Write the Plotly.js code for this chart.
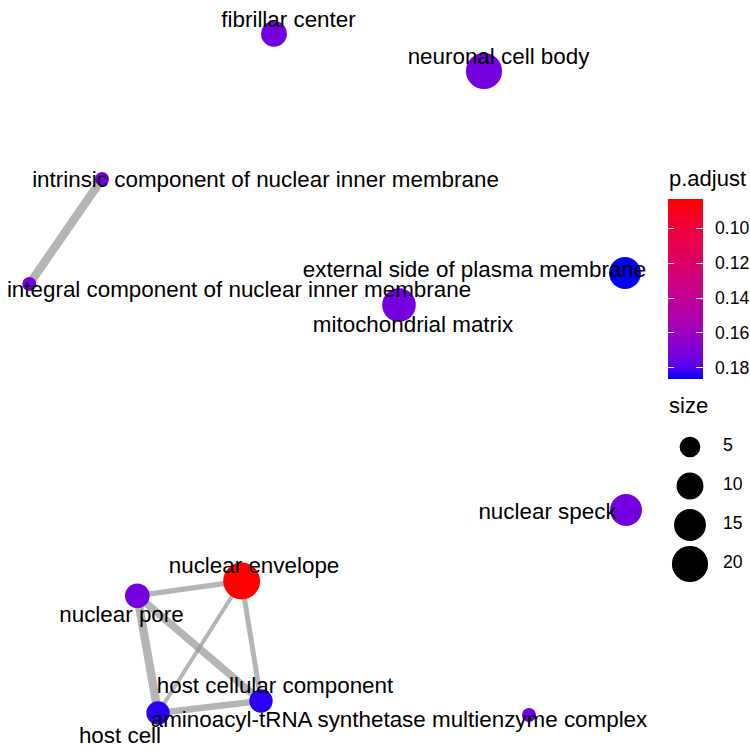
<!DOCTYPE html>
<html>
<head>
<meta charset="utf-8">
<script src="https://cdn.plot.ly/plotly-3.0.1.min.js"></script>
<style>html,body{margin:0;padding:0;background:#fff;}#chart{width:750px;height:750px;}</style>
</head>
<body>
<div id="chart"></div>
<script>
// ---- data ----
const nodeNames = ["fibrillar center","neuronal cell body","intrinsic component of nuclear inner membrane","integral component of nuclear inner membrane","external side of plasma membrane","mitochondrial matrix","nuclear speck","nuclear envelope","nuclear pore","host cellular component","host cell","aminoacyl-tRNA synthetase multienzyme complex"];
const nodeX = [3.653, 6.453, 1.36, 0.391, 8.333, 5.32, 8.347, 3.222, 1.831, 3.48, 2.107, 7.053];
const nodeY = [9.547, 9.053, 7.613, 6.213, 6.36, 5.933, 3.2, 2.253, 2.057, 0.653, 0.493, 0.467];
const nodeSize = [9, 20, 1, 1, 15, 17, 15, 21, 8, 7, 7, 1];
const nodePadj = [0.173, 0.173, 0.173, 0.173, 0.1863, 0.173, 0.173, 0.0834, 0.173, 0.183, 0.183, 0.173];
const labelX = [3.847, 6.647, 3.54, 3.187, 6.327, 5.507, 7.3, 3.387, 1.62, 3.667, 1.6, 5.32];
const labelY = [9.716, 9.222, 7.582, 6.116, 6.382, 5.649, 3.156, 2.436, 1.782, 0.836, 0.169, 0.382];
const edgeFrom = [2, 8, 8, 8, 7, 7, 10];
const edgeTo   = [3, 7, 10, 9, 10, 9, 9];
const edgeSim  = [0.93, 0.47, 0.93, 0.79, 0.29, 0.43, 0.64];
const padjTicks = [0.10, 0.12, 0.14, 0.16, 0.18];
const sizeBreaks = [5, 10, 15, 20];

// ---- helpers ----
const sMin = Math.min(...nodeSize);
function diam(s){ return 2*Math.sqrt(49 + 14.65*(s - sMin)); }
const FONT = "Liberation Sans, Arial, sans-serif";
// red (low p) -> blue (high p), Lab-like interpolation; colour values are -p so that red sits at the top of the bar
const colorscale = [[0,"#0000FF"],[0.0625,"#5400F0"],[0.125,"#7300E0"],[0.25,"#9A00C3"],[0.375,"#B500A5"],[0.5,"#CA0089"],[0.625,"#DA006C"],[0.75,"#E8004F"],[0.875,"#F40031"],[1,"#FF0000"]];
const clearScale = [[0,"rgba(0,0,0,0)"],[1,"rgba(0,0,0,0)"]];
const negP = nodePadj.map(p => -p);
const cMin = Math.min(...negP), cMax = Math.max(...negP);
const tickV = padjTicks.map(v => -v), tickT = padjTicks.map(v => v.toFixed(2));

// colour bar geometry
const cbX0 = 668/750, cbThick = 35, cbLen = 180, cbYmid = 1 - 289/750;
function cbar(extra){
  return Object.assign({
    x: cbX0, xanchor: "left", xpad: 0, ypad: 0, y: cbYmid, yanchor: "middle",
    lenmode: "pixels", len: cbLen, thickness: cbThick, outlinewidth: 0,
    tickvals: tickV, ticktext: tickT, showticklabels: false,
    ticks: "inside", ticklen: 7, tickcolor: "#FFFFFF", tickwidth: 1,
    tickfont: {family: FONT, size: 17.6, color: "#000"}
  }, extra);
}

const traces = [];
for (let i = 0; i < edgeFrom.length; i++) {
  traces.push({
    type: "scatter", mode: "lines", hoverinfo: "skip", showlegend: false,
    x: [nodeX[edgeFrom[i]], nodeX[edgeTo[i]]],
    y: [nodeY[edgeFrom[i]], nodeY[edgeTo[i]]],
    line: {color: "rgba(153,153,153,0.72)", width: 2 + 7*edgeSim[i]}
  });
}
// nodes (main colour bar, right-hand white ticks)
traces.push({
  type: "scatter", mode: "markers", showlegend: false,
  x: nodeX, y: nodeY, text: nodeNames,
  marker: {
    size: nodeSize.map(diam), color: negP, colorscale: colorscale,
    cmin: cMin, cmax: cMax, line: {width: 0}, opacity: 1,
    showscale: true, colorbar: cbar({})
  }
});
// narrow strip of the same bar carrying the left-hand white ticks
traces.push({
  type: "scatter", mode: "markers", showlegend: false, hoverinfo: "skip",
  x: nodeX, y: nodeY,
  marker: {size: 0, opacity: 0, color: negP, colorscale: colorscale, cmin: cMin, cmax: cMax,
    showscale: true, colorbar: cbar({thickness: 6, ticklen: 6})}
});
// transparent bar carrying the tick labels
traces.push({
  type: "scatter", mode: "markers", showlegend: false, hoverinfo: "skip",
  x: nodeX, y: nodeY,
  marker: {size: 0, opacity: 0, color: negP, colorscale: clearScale, cmin: cMin, cmax: cMax,
    showscale: true, colorbar: cbar({showticklabels: true, ticks: "outside", ticklen: 9, tickcolor: "rgba(0,0,0,0)"})}
});
traces.push({
  type: "scatter", mode: "text", showlegend: false, hoverinfo: "skip",
  x: labelX, y: labelY, text: nodeNames, textposition: "middle center",
  textfont: {family: FONT, size: 22.4, color: "#000"}
});
// size legend
const sizeCats = sizeBreaks.map(String);
traces.push({
  type: "scatter", mode: "markers", showlegend: false, hoverinfo: "skip", opacity: 1,
  xaxis: "x2", yaxis: "y2",
  x: sizeBreaks.map(() => 0.333), y: sizeCats,
  marker: {size: sizeBreaks.map(diam), color: "rgb(0,0,0)", opacity: 1, line: {width: 0}}
});
traces.push({
  type: "scatter", mode: "text", showlegend: false, hoverinfo: "skip",
  xaxis: "x2", yaxis: "y2",
  x: sizeBreaks.map(() => 0.7), y: sizeCats, text: sizeCats, textposition: "middle right",
  textfont: {family: FONT, size: 17.6, color: "#000"}
});

const hidden = {visible: false, showgrid: false, zeroline: false, fixedrange: true};
const layout = {
  width: 750, height: 750, margin: {l: 0, r: 0, t: 0, b: 0},
  paper_bgcolor: "#fff", plot_bgcolor: "rgba(0,0,0,0)",
  showlegend: false,
  xaxis: Object.assign({range: [0, 10], domain: [0, 1]}, hidden),
  yaxis: Object.assign({range: [0, 10], domain: [0, 1]}, hidden),
  xaxis2: Object.assign({range: [0, 1], domain: [660/750, 1], anchor: "y2"}, hidden),
  yaxis2: Object.assign({type: "category", categoryorder: "array", categoryarray: sizeCats.slice().reverse(), range: [-0.5, 3.5], domain: [1 - 583.5/750, 1 - 427.5/750], anchor: "x2"}, hidden),
  annotations: [
    {xref: "paper", yref: "paper", x: 667/750, y: 1 - 178/750, xanchor: "left", yanchor: "middle", showarrow: false, text: "p.adjust", font: {family: FONT, size: 22, color: "#000"}},
    {xref: "paper", yref: "paper", x: 667/750, y: 1 - 405/750, xanchor: "left", yanchor: "middle", showarrow: false, text: "size", font: {family: FONT, size: 22, color: "#000"}}
  ]
};
Plotly.newPlot("chart", traces, layout, {staticPlot: true, displayModeBar: false});
</script>
</body>
</html>
